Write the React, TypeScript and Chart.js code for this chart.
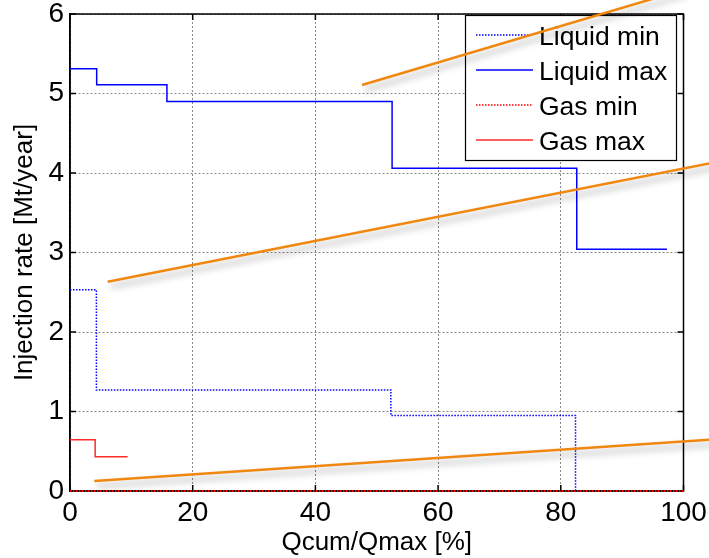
import React, { useEffect, useRef } from "react";
import { Chart, registerables } from "chart.js";

Chart.register(...registerables);

// ---- data ----
const xTicks = [0, 20, 40, 60, 80, 100];
const yTicks = [0, 1, 2, 3, 4, 5, 6];

const liquidMinX = [0, 4.3, 52.3, 82.4];
const liquidMinY = [2.53, 1.27, 0.95, 0];

const liquidMaxX = [0, 4.35, 15.8, 52.5, 82.6, 97.3];
const liquidMaxY = [5.31, 5.11, 4.9, 4.06, 3.04, 3.04];

const gasMinX = [0, 100];
const gasMinY = [0, 0];

const gasMaxX = [0, 4.1, 9.4];
const gasMaxY = [0.645, 0.43, 0.43];

// overlaid orange annotation lines (start, end)
const trend1X = [47.6, 100];
const trend1Y = [5.107, 6.306];
const trend2X = [6.14, 105];
const trend2Y = [2.633, 4.132];
const trend3X = [3.96, 105];
const trend3Y = [0.126, 0.649];

const FONT = "'Liberation Sans', Arial, Helvetica, sans-serif";

const pts = (xs: number[], ys: number[]) => xs.map((x, i) => ({ x, y: ys[i] }));

const matlabPlugin = {
  id: "matlabLook",
  beforeDatasetsDraw(chart: any) {
    const { ctx, chartArea: a, scales } = chart;
    ctx.save();
    // frame
    ctx.strokeStyle = "#000";
    ctx.lineWidth = 1.5;
    ctx.strokeRect(a.left, a.top, a.right - a.left, a.bottom - a.top);
    // inward tick marks on all four sides
    const tl = 6;
    ctx.beginPath();
    for (const v of xTicks) {
      const px = scales.x.getPixelForValue(v);
      ctx.moveTo(px, a.bottom);
      ctx.lineTo(px, a.bottom - tl);
      ctx.moveTo(px, a.top);
      ctx.lineTo(px, a.top + tl);
    }
    for (const v of yTicks) {
      const py = scales.y.getPixelForValue(v);
      ctx.moveTo(a.left, py);
      ctx.lineTo(a.left + tl, py);
      ctx.moveTo(a.right, py);
      ctx.lineTo(a.right - tl, py);
    }
    ctx.stroke();

    // legend box
    const items = chart.data.datasets.filter((d: any) => d.inLegend);
    const lx = a.right - 218.5;
    const ly = a.top + 1;
    const lw = 211;
    const lh = 145;
    ctx.fillStyle = "#fff";
    ctx.fillRect(lx, ly, lw, lh);
    ctx.strokeStyle = "#000";
    ctx.lineWidth = 1.2;
    ctx.strokeRect(lx + 0.5, ly + 0.5, lw, lh);
    ctx.font = `26.5px ${FONT}`;
    ctx.textBaseline = "middle";
    ctx.textAlign = "left";
    items.forEach((d: any, i: number) => {
      const y = ly + 20 + i * 35;
      ctx.save();
      ctx.strokeStyle = d.borderColor;
      ctx.lineWidth = 1.5;
      ctx.setLineDash(d.borderDash || []);
      ctx.beginPath();
      ctx.moveTo(lx + 11, y);
      ctx.lineTo(lx + 68, y);
      ctx.stroke();
      ctx.restore();
      ctx.fillStyle = "#000";
      ctx.fillText(d.label, lx + 74, y + 2.5);
    });
    ctx.restore();
  },
  beforeDatasetDraw(chart: any, args: any) {
    const ds = chart.data.datasets[args.index];
    if (ds.shadow) {
      const ctx = chart.ctx;
      ctx.save();
      ctx.shadowColor = "rgba(0,0,0,0.35)";
      ctx.shadowBlur = 7;
      ctx.shadowOffsetX = 3;
      ctx.shadowOffsetY = 5;
    }
  },
  afterDatasetDraw(chart: any, args: any) {
    const ds = chart.data.datasets[args.index];
    if (ds.shadow) chart.ctx.restore();
  },
};

export default function App() {
  const canvasRef = useRef<HTMLCanvasElement | null>(null);

  useEffect(() => {
    if (!canvasRef.current) return;
    const orange = "#f0870f";
    const trendCommon = {
      borderColor: orange,
      borderWidth: 2.5,
      pointRadius: 0,
      clip: false as any,
      shadow: true,
      order: -1,
    };
    const chart = new Chart(canvasRef.current, {
      type: "line",
      data: {
        datasets: [
          { label: "t1", data: pts(trend1X, trend1Y), ...trendCommon } as any,
          { label: "t2", data: pts(trend2X, trend2Y), ...trendCommon } as any,
          { label: "t3", data: pts(trend3X, trend3Y), ...trendCommon } as any,
          {
            label: "Liquid min",
            data: pts(liquidMinX, liquidMinY),
            borderColor: "#0000ff",
            borderWidth: 1.5,
            borderDash: [1.5, 1.5],
            stepped: "before",
            pointRadius: 0,
            inLegend: true,
          } as any,
          {
            label: "Liquid max",
            data: pts(liquidMaxX, liquidMaxY),
            borderColor: "#0000ff",
            borderWidth: 1.5,
            stepped: "before",
            pointRadius: 0,
            inLegend: true,
          } as any,
          {
            label: "Gas min",
            data: pts(gasMinX, gasMinY),
            borderColor: "#ff0000",
            borderWidth: 2,
            borderDash: [1.5, 1.5],
            stepped: "before",
            pointRadius: 0,
            clip: false,
            inLegend: true,
          } as any,
          {
            label: "Gas max",
            data: pts(gasMaxX, gasMaxY),
            borderColor: "#ff2a2a",
            borderWidth: 1.5,
            stepped: "before",
            pointRadius: 0,
            inLegend: true,
          } as any,
        ],
      },
      options: {
        responsive: false,
        animation: false,
        devicePixelRatio: 1,
        parsing: false as any,
        layout: { padding: { top: 14, right: 25.5, left: 0, bottom: 0 } },
        plugins: {
          legend: { display: false },
          tooltip: { enabled: false },
        },
        scales: {
          x: {
            type: "linear",
            min: 0,
            max: 100,
            afterFit: (s: any) => {
              s.height = 67;
              s.paddingLeft = 0;
              s.paddingRight = 0;
            },
            afterBuildTicks: (s: any) => {
              s.ticks = xTicks.map((v) => ({ value: v }));
            },
            ticks: {
              color: "#000",
              font: { family: FONT, size: 28 },
              padding: 5,
              maxRotation: 0,
              autoSkip: false,
            },
            grid: {
              color: "rgba(70,70,70,0.65)",
              lineWidth: 1,
              drawTicks: false,
            },
            border: { display: true, color: "#000", width: 1.5, dash: [2, 2] },
            title: {
              display: true,
              text: "Qcum/Qmax [%]",
              color: "#000",
              font: { family: FONT, size: 26 },
              padding: { top: 0, bottom: 0 },
            },
          },
          y: {
            type: "linear",
            min: 0,
            max: 6,
            afterFit: (s: any) => {
              s.width = 70;
              s.paddingTop = 0;
              s.paddingBottom = 0;
            },
            afterBuildTicks: (s: any) => {
              s.ticks = yTicks.map((v) => ({ value: v }));
            },
            ticks: {
              color: "#000",
              font: { family: FONT, size: 28 },
              padding: 6,
              autoSkip: false,
            },
            grid: {
              color: "rgba(70,70,70,0.65)",
              lineWidth: 1,
              drawTicks: false,
            },
            border: { display: true, color: "#000", width: 1.5, dash: [2, 2] },
            title: {
              display: true,
              text: "Injection rate [Mt/year]",
              color: "#000",
              font: { family: FONT, size: 26 },
              padding: { top: 9, bottom: 0 },
            },
          },
        },
      },
      plugins: [matlabPlugin as any],
    });
    return () => chart.destroy();
  }, []);

  return (
    <div
      style={{
        position: "absolute",
        left: 0,
        top: 0,
        width: 709,
        height: 558,
        background: "#fff",
      }}
    >
      <canvas ref={canvasRef} width={709} height={558} />
    </div>
  );
}
